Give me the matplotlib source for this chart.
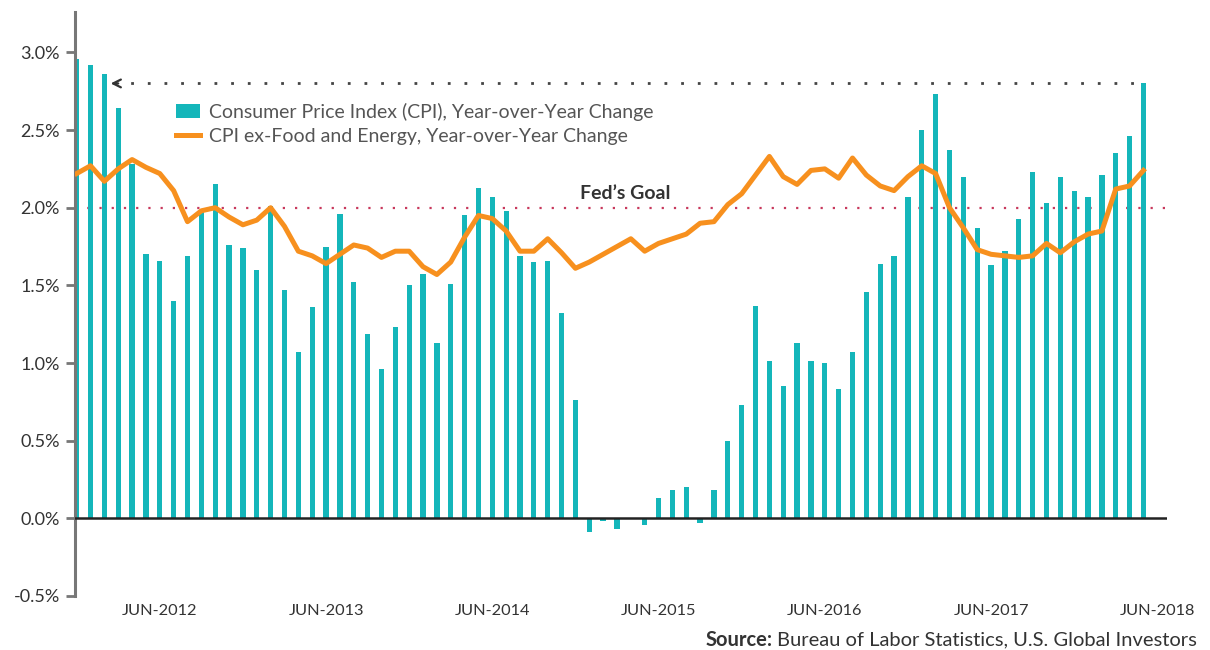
import numpy as np
import matplotlib
matplotlib.use("Agg")
import matplotlib.pyplot as plt

plt.rcParams['font.family'] = ['Lato', 'DejaVu Sans']

# Monthly data, Dec 2011 .. May 2018 (year-over-year change, %)
cpi = [2.96, 2.92, 2.86, 2.64, 2.28, 1.70, 1.66, 1.40, 1.69, 1.97, 2.15, 1.76, 1.74,
       1.60, 2.01, 1.47, 1.07, 1.36, 1.75, 1.96, 1.52, 1.19, 0.96, 1.23, 1.50,
       1.57, 1.13, 1.51, 1.95, 2.13, 2.07, 1.98, 1.69, 1.65, 1.66, 1.32, 0.76,
       -0.09, -0.02, -0.07, 0.00, -0.04, 0.13, 0.18, 0.20, -0.03, 0.18, 0.50, 0.73,
       1.37, 1.01, 0.85, 1.13, 1.01, 1.00, 0.83, 1.07, 1.46, 1.64, 1.69, 2.07,
       2.50, 2.73, 2.37, 2.20, 1.87, 1.63, 1.72, 1.93, 2.23, 2.03, 2.20, 2.11,
       2.07, 2.21, 2.35, 2.46, 2.80]
core = [2.22, 2.27, 2.17, 2.25, 2.31, 2.26, 2.22, 2.11, 1.91, 1.98, 2.00, 1.94, 1.89,
        1.92, 2.00, 1.88, 1.72, 1.69, 1.64, 1.70, 1.76, 1.74, 1.68, 1.72, 1.72,
        1.62, 1.57, 1.65, 1.81, 1.95, 1.93, 1.85, 1.72, 1.72, 1.80, 1.71, 1.61,
        1.65, 1.70, 1.75, 1.80, 1.72, 1.77, 1.80, 1.83, 1.90, 1.91, 2.02, 2.09,
        2.21, 2.33, 2.20, 2.15, 2.24, 2.25, 2.19, 2.32, 2.21, 2.14, 2.11, 2.20,
        2.27, 2.22, 2.00, 1.87, 1.73, 1.70, 1.69, 1.68, 1.69, 1.77, 1.71, 1.78,
        1.83, 1.85, 2.12, 2.14, 2.24]
tick_labels = ['JUN-2012', 'JUN-2013', 'JUN-2014', 'JUN-2015',
               'JUN-2016', 'JUN-2017', 'JUN-2018']
fed_goal = 2.0

teal = '#14b6ba'
orange = '#f7901e'

x = np.arange(len(cpi))
fig = plt.figure(figsize=(12.1, 6.5), dpi=100)
ax = fig.add_axes([75 / 1210, 54 / 650, (1167 - 75) / 1210, (596 - 12) / 650])

bars = ax.bar(x, cpi, width=0.38, color=teal, zorder=2)
line, = ax.plot(x, core, color=orange, lw=3.6, solid_joinstyle='round', zorder=4)

ax.axhline(0, color='#222222', lw=1.8, zorder=3)
ax.axhline(fed_goal, color='#c8385c', lw=1.6, ls=(0, (1, 4.5)), zorder=1)
ax.annotate("Fed\u2019s Goal", xy=(39.6, fed_goal), xytext=(0, 4),
            textcoords='offset points', ha='center', va='bottom',
            fontsize=14, fontweight='bold', color='#333333')

# dotted arrow back to the early-2012 level
ax.plot([2.7, x[-1]], [cpi[-1], cpi[-1]], color='#444444', lw=2,
        ls=(0, (1, 5)), zorder=1)
ax.annotate('', xy=(2.25, cpi[-1]), xytext=(3.2, cpi[-1]),
            arrowprops=dict(arrowstyle='->', color='#333333', lw=1.6,
                            mutation_scale=14))

ax.set_xlim(-0.12, 78.7)
ax.set_ylim(-0.5, 3.26)
yt = np.arange(-0.5, 3.01, 0.5)
ax.set_yticks(yt)
ax.set_yticklabels([f'{v:.1f}%' for v in yt])
ax.set_xticks([6 + 12 * k for k in range(len(tick_labels))])
ax.set_xticklabels(tick_labels)

for s in ['top', 'right', 'bottom']:
    ax.spines[s].set_visible(False)
ax.spines['left'].set_color('#777777')
ax.spines['left'].set_linewidth(2.2)
ax.tick_params(axis='y', direction='out', length=6.5, width=2, color='#777777',
               pad=4.5, labelsize=13, labelcolor='#333333')
ax.tick_params(axis='x', length=0, pad=6, labelsize=11.8, labelcolor='#333333')

leg = ax.legend([bars, line],
                ['Consumer Price Index (CPI), Year-over-Year Change',
                 'CPI ex-Food and Energy, Year-over-Year Change'],
                loc='upper left', bbox_to_anchor=(166 / 1210, 1 - 93 / 650),
                bbox_transform=fig.transFigure, frameon=False, borderpad=0,
                handlelength=1.25, handletextpad=0.45, labelspacing=0.35,
                prop={'size': 14})
for t in leg.get_texts():
    t.set_color('#555555')

# source line, bold prefix
src = fig.text(1197 / 1210, 1 - 640 / 650, 'Bureau of Labor Statistics, U.S. Global Investors',
               ha='right', va='center', fontsize=14.5, color='#333333')
fig.canvas.draw()
bb = src.get_window_extent()
fig.text(bb.x0 / 1210 - 4 / 1210, 1 - 640 / 650, 'Source:', ha='right', va='center',
         fontsize=14.5, fontweight='bold', color='#333333')

fig.savefig('out.png', dpi=100)
